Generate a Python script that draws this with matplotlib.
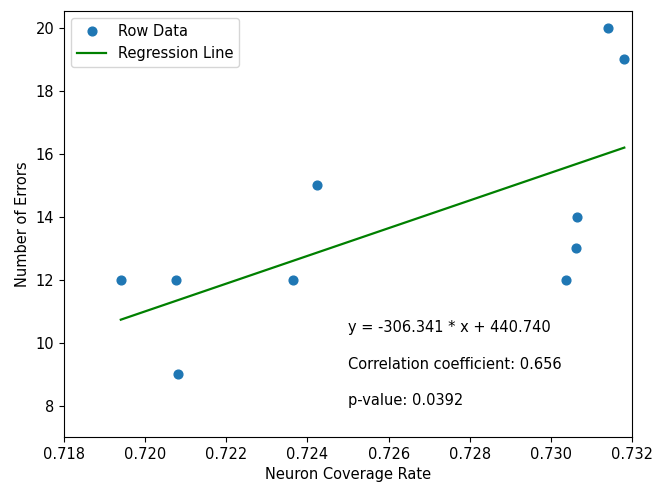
import numpy as np
import matplotlib
matplotlib.use("Agg")
import matplotlib.pyplot as plt

coverage = [0.71940, 0.72076, 0.72081, 0.72364, 0.72424, 0.73037, 0.73062, 0.73064, 0.73140, 0.73181]
errors = [12, 12, 9, 12, 15, 12, 13, 14, 20, 19]
eq_text = "y = -306.341 * x + 440.740"
corr_text = "Correlation coefficient: 0.656"
p_text = "p-value: 0.0392"

plt.rcParams['font.size'] = 10.5

x = np.array(coverage)
y = np.array(errors)
slope, intercept = np.polyfit(x, y, 1)

fig = plt.figure(figsize=(6.64, 4.83), dpi=100)
ax = fig.add_axes([64/664, 46/483, 568/664, 426/483])
ax.plot(x, y, 'o', markersize=6.3, label='Row Data')
ax.plot(x, slope * x + intercept, color='green', linewidth=1.6, label='Regression Line')
ax.set_xlim(0.718, 0.732)
ax.set_ylim(7, 20.54)
ax.set_xlabel('Neuron Coverage Rate')
ax.set_ylabel('Number of Errors')
ax.legend(loc='upper left')
ax.text(0.725, 10.48, eq_text, va='center')
ax.text(0.725, 9.3, corr_text, va='center')
ax.text(0.725, 8.16, p_text, va='center')
fig.savefig('out.png', dpi=100)
